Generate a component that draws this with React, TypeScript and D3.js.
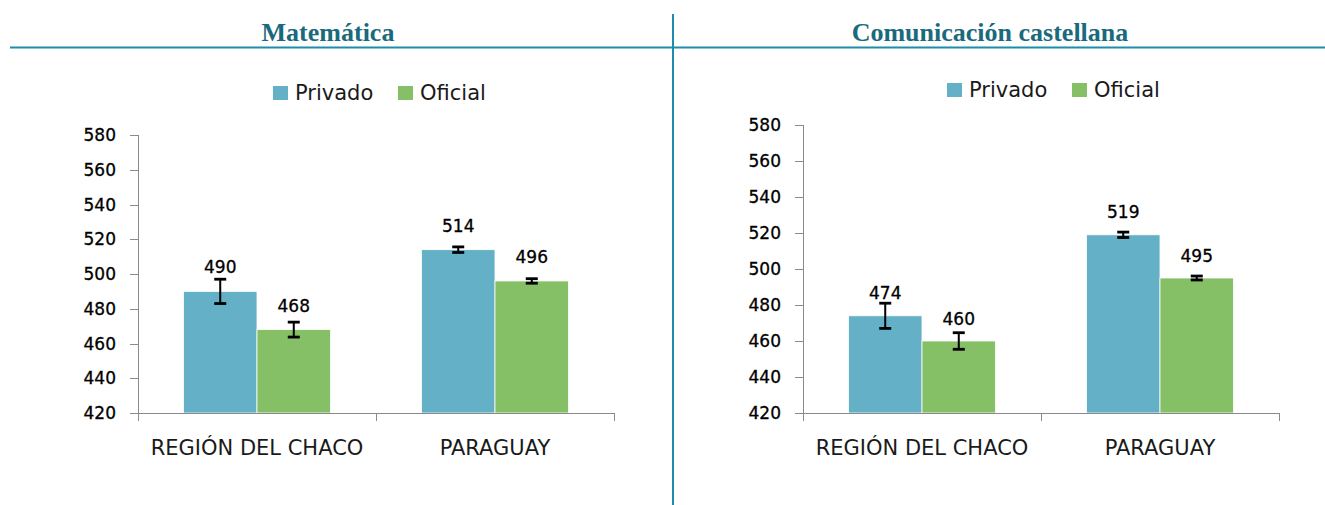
import React from 'react';
import * as d3 from 'd3';

const categories = ['REGIÓN DEL CHACO', 'PARAGUAY'];
const seriesNames = ['Privado', 'Oficial'];
const seriesColors = ['#64b0c6', '#86c066'];
const yTicks = [420, 440, 460, 480, 500, 520, 540, 560, 580];

const mathPrivado = [490, 514];
const mathOficial = [468, 496];
const mathPrivadoErr = [7, 1.6];
const mathOficialErr = [4.3, 1.3];

const comPrivado = [474, 519];
const comOficial = [460, 495];
const comPrivadoErr = [7, 1.5];
const comOficialErr = [4.6, 1.1];

const W = 1325;
const H = 505;
const LINE = '#1f8cab';
const TITLE = '#1a6a7d';
const AXIS = '#8a8a8a';
const SANS = '"DejaVu Sans", sans-serif';

interface PanelProps {
  title: string;
  titleX: number;
  axisX: number;
  yTop: number;
  yBottom: number;
  legendX: number;
  legendY: number;
  values: number[][];
  errors: number[][];
  labelGap: number;
}

const Panel: React.FC<PanelProps> = ({ title, titleX, axisX, yTop, yBottom, legendX, legendY, values, errors, labelGap }) => {
  const plotW = 476;
  const y = d3.scaleLinear().domain([420, 580]).range([yBottom, yTop]);
  const x = d3.scaleBand<string>().domain(categories).range([axisX, axisX + plotW]).padding(0);
  const bw = x.bandwidth();
  const xs = d3.scaleBand<string>().domain(seriesNames).range([bw * 0.191, bw * 0.809]).padding(0);

  return (
    <g>
      <text x={titleX} y={41} textAnchor="middle" fontFamily='"Liberation Serif", serif' fontWeight="bold" fontSize={26} fill={TITLE}>
        {title}
      </text>

      {/* legend */}
      {seriesNames.map((s, i) => {
        const lx = legendX + (i === 0 ? 0 : 125);
        return (
          <g key={s}>
            <rect x={lx} y={legendY - 14} width={15} height={14} fill={seriesColors[i]} />
            <text x={lx + 22} y={legendY} fontFamily={SANS} fontSize={21} fill="#1a1a1a">{s}</text>
          </g>
        );
      })}

      {/* bars */}
      {categories.map((c, ci) =>
        seriesNames.map((s, si) => {
          const v = values[si][ci];
          const e = errors[si][ci];
          const bx = (x(c) as number) + (xs(s) as number);
          const cx = bx + xs.bandwidth() / 2;
          return (
            <g key={c + s}>
              <rect x={bx} y={y(v)} width={xs.bandwidth()} height={yBottom - y(v)} fill={seriesColors[si]} stroke="#ffffff" strokeWidth={0.8} />
              <line x1={cx} x2={cx} y1={y(v + e)} y2={y(v - e)} stroke="#000" strokeWidth={2} />
              <line x1={cx - 6} x2={cx + 6} y1={y(v + e)} y2={y(v + e)} stroke="#000" strokeWidth={2.8} />
              <line x1={cx - 6} x2={cx + 6} y1={y(v - e)} y2={y(v - e)} stroke="#000" strokeWidth={2.8} />
              <text x={cx} y={y(v) - labelGap} textAnchor="middle" fontFamily={SANS} fontSize={17} fill="#000" stroke="#000" strokeWidth={0.3}>{v}</text>
            </g>
          );
        })
      )}

      {/* y axis */}
      <line x1={axisX + 0.5} x2={axisX + 0.5} y1={yTop} y2={yBottom + 8} stroke={AXIS} strokeWidth={1} />
      {yTicks.map(t => (
        <g key={t}>
          <line x1={axisX - 8} x2={axisX} y1={Math.round(y(t)) + 0.5} y2={Math.round(y(t)) + 0.5} stroke={AXIS} strokeWidth={1} />
          <text x={axisX - 22} y={y(t) + 6} textAnchor="end" fontFamily={SANS} fontSize={17} fill="#000" stroke="#000" strokeWidth={0.3}>{t}</text>
        </g>
      ))}

      {/* x axis */}
      <line x1={axisX - 8} x2={axisX + plotW} y1={Math.round(yBottom) + 0.5} y2={Math.round(yBottom) + 0.5} stroke={AXIS} strokeWidth={1} />
      {categories.map((c, ci) => (
        <g key={c}>
          <line x1={(x(c) as number) + bw + 0.5} x2={(x(c) as number) + bw + 0.5} y1={yBottom} y2={yBottom + 8} stroke={AXIS} strokeWidth={1} />
          <text x={(x(c) as number) + bw / 2} y={455} textAnchor="middle" fontFamily={SANS} fontSize={21} fill="#1a1a1a">{c}</text>
        </g>
      ))}
    </g>
  );
};

export default function App() {
  return (
    <svg width={W} height={H} style={{ position: 'absolute', left: 0, top: 0, background: '#fff' }}>
      <rect x={0} y={0} width={W} height={H} fill="#fff" />
      <line x1={10} x2={W} y1={47.5} y2={47.5} stroke={LINE} strokeWidth={2} />
      <line x1={673} x2={673} y1={14} y2={H} stroke={LINE} strokeWidth={2} />
      <Panel
        title="Matemática"
        titleX={328}
        axisX={138}
        yTop={135}
        yBottom={413}
        legendX={273}
        legendY={100}
        values={[mathPrivado, mathOficial]}
        errors={[mathPrivadoErr, mathOficialErr]}
        labelGap={18}
      />
      <Panel
        title="Comunicación castellana"
        titleX={990}
        axisX={803}
        yTop={125}
        yBottom={413}
        legendX={947}
        legendY={97}
        values={[comPrivado, comOficial]}
        errors={[comPrivadoErr, comOficialErr]}
        labelGap={16.5}
      />
    </svg>
  );
}
